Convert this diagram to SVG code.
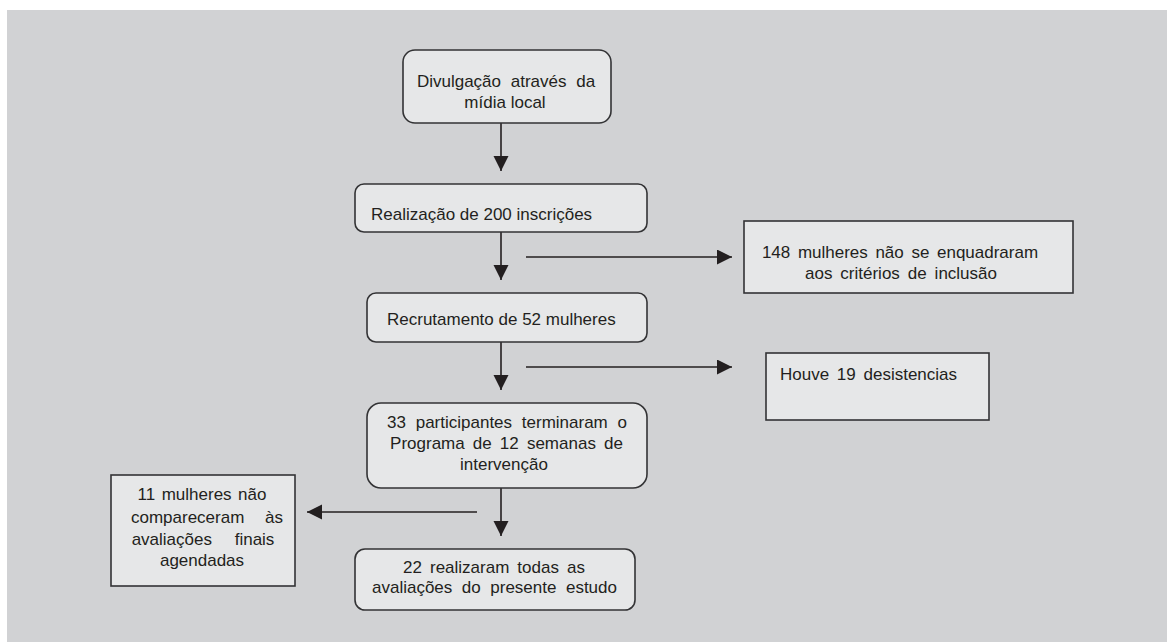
<svg xmlns="http://www.w3.org/2000/svg" width="1167" height="642" viewBox="0 0 1167 642">
<style>
.bg{fill:#d1d2d4}
.box{fill:#e6e7e8;stroke:#333335;stroke-width:1.6}
.t{font-family:"Liberation Sans",Arial,sans-serif;font-size:17px;fill:#231f20}
.c{text-anchor:middle}
.ln{stroke:#231f20;stroke-width:1.6;fill:none}
</style>
<defs>
<marker id="ah" markerUnits="userSpaceOnUse" markerWidth="16" markerHeight="16" viewBox="0 0 16 16" refX="15" refY="7.5" orient="auto">
<path d="M0,0 L15,7.5 L0,15 Z" fill="#231f20"/>
</marker>
</defs>
<rect x="0" y="0" width="1167" height="642" fill="#ffffff"/>
<rect class="bg" x="7" y="10" width="1160" height="632"/>

<g id="connectors">
<line class="ln" x1="501" y1="123" x2="501" y2="171" marker-end="url(#ah)"/>
<line class="ln" x1="501" y1="232" x2="501" y2="280" marker-end="url(#ah)"/>
<line class="ln" x1="501" y1="342" x2="501" y2="390" marker-end="url(#ah)"/>
<line class="ln" x1="501" y1="488" x2="501" y2="536" marker-end="url(#ah)"/>
<line class="ln" x1="526" y1="257" x2="732" y2="257" marker-end="url(#ah)"/>
<line class="ln" x1="526" y1="367" x2="732" y2="367" marker-end="url(#ah)"/>
<line class="ln" x1="477" y1="512" x2="307" y2="512" marker-end="url(#ah)"/>
</g>

<g id="n1">
<rect class="box" x="403" y="50" width="208" height="73" rx="12"/>
<text class="t c" x="506" y="87" word-spacing="5">Divulgação através da</text>
<text class="t c" x="505" y="108">mídia local</text>
</g>

<g id="n2">
<rect class="box" x="355" y="184" width="292" height="48" rx="9"/>
<text class="t" x="371" y="220">Realização de 200 inscrições</text>
</g>

<g id="n3">
<rect class="box" x="744" y="221" width="329" height="72"/>
<text class="t c" x="900" y="258" word-spacing="2.9">148 mulheres não se enquadraram</text>
<text class="t c" x="901" y="279" word-spacing="3.2">aos critérios de inclusão</text>
</g>

<g id="n4">
<rect class="box" x="367" y="293" width="280" height="49" rx="9"/>
<text class="t" x="387" y="325">Recrutamento de 52 mulheres</text>
</g>

<g id="n5">
<rect class="box" x="766" y="353" width="223" height="67"/>
<text class="t" x="780" y="380" word-spacing="3">Houve 19 desistencias</text>
</g>

<g id="n6">
<rect class="box" x="367" y="403" width="280" height="85" rx="14"/>
<text class="t c" x="507" y="428" word-spacing="5">33 participantes terminaram o</text>
<text class="t c" x="506.5" y="449" word-spacing="3.4">Programa de 12 semanas de</text>
<text class="t c" x="504" y="470">intervenção</text>
</g>

<g id="n7">
<rect class="box" x="111" y="475" width="184" height="111"/>
<text class="t c" x="202" y="500" word-spacing="1.7">11 mulheres não</text>
<text class="t c" x="207" y="523" word-spacing="16">compareceram às</text>
<text class="t c" x="203" y="545" word-spacing="18">avaliações finais</text>
<text class="t c" x="202" y="566">agendadas</text>
</g>

<g id="n8">
<rect class="box" x="355" y="549" width="280" height="61" rx="10"/>
<text class="t c" x="494" y="573" word-spacing="3.3">22 realizaram todas as</text>
<text class="t c" x="494.5" y="593" word-spacing="4.8">avaliações do presente estudo</text>
</g>
</svg>
